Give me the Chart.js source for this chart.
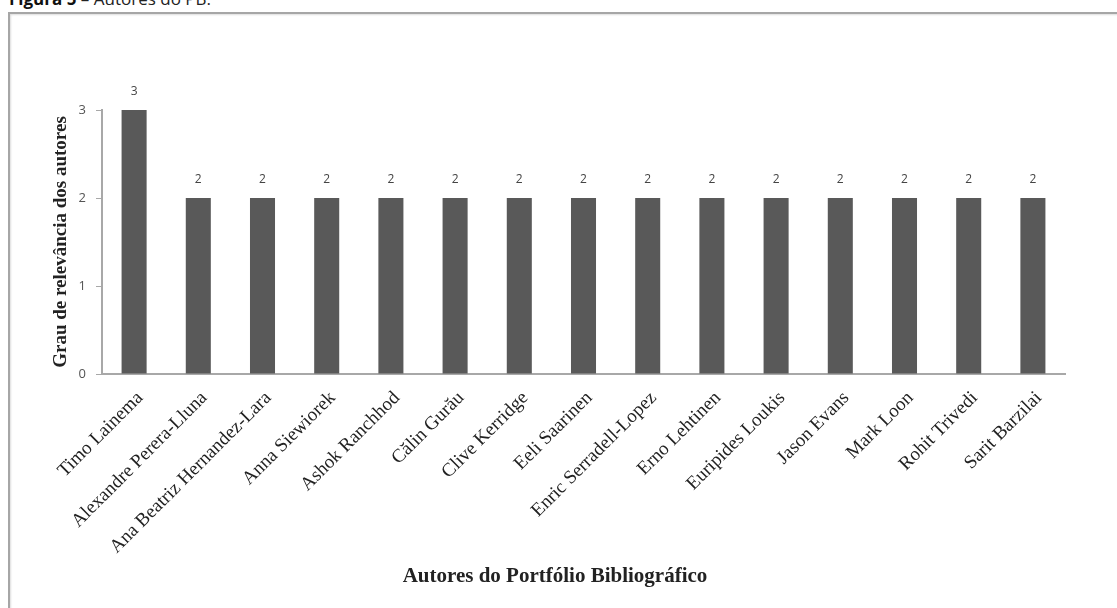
<!DOCTYPE html>
<html>
<head>
<meta charset="utf-8">
<script src="https://cdn.jsdelivr.net/npm/chart.js@4.4.1/dist/chart.umd.min.js"></script>
<style>
  html, body { margin: 0; padding: 0; background: #fff; overflow: hidden; }
  #wrap { position: relative; width: 1117px; height: 608px; }
  #caption {
    position: absolute; left: 9px; top: -13px;
    font-family: "Open Sans", sans-serif; font-size: 17px; color: #222; white-space: nowrap;
  }
  #caption b { color: #111; }
  #frame {
    position: absolute; left: 8px; top: 12px; right: -2px; bottom: -2px;
    border-top: 2px solid #a6a6a6; border-left: 2px solid #a6a6a6;
    box-shadow: inset 1px 1px 2px #ddd;
  }
  #chart { position: absolute; left: 0; top: 0; }
</style>
</head>
<body>
<div id="wrap">
  <div id="caption"><b>Figura 5</b> – Autores do PB.</div>
  <div id="frame"></div>
  <canvas id="chart" width="1117" height="608"></canvas>
</div>
<script>
const authors = [
  'Timo Lainema', 'Alexandre Perera-Lluna', 'Ana Beatriz Hernandez-Lara',
  'Anna Siewiorek', 'Ashok Ranchhod', 'Călin Gurău', 'Clive Kerridge',
  'Eeli Saarinen', 'Enric Serradell-Lopez', 'Erno Lehtinen', 'Euripides Loukis',
  'Jason Evans', 'Mark Loon', 'Rohit Trivedi', 'Sarit Barzilai'
];
const relevance = [3, 2, 2, 2, 2, 2, 2, 2, 2, 2, 2, 2, 2, 2, 2];
const yTicks = [0, 1, 2, 3];
const xTitle = 'Autores do Portfólio Bibliográfico';
const yTitle = 'Grau de relevância dos autores';

// value labels over each bar
const barValues = {
  id: 'barValues',
  afterDatasetsDraw(chart) {
    const ctx = chart.ctx;
    const meta = chart.getDatasetMeta(0);
    ctx.save();
    ctx.font = '12px "Open Sans", sans-serif';
    ctx.fillStyle = '#444';
    ctx.textAlign = 'center';
    ctx.textBaseline = 'middle';
    meta.data.forEach((bar, i) => {
      ctx.fillText(String(relevance[i]), bar.x, bar.y - 18);
    });
    ctx.restore();
  }
};

// x axis caption, sitting a little left of the plot centre
const xCaption = {
  id: 'xCaption',
  afterDraw(chart) {
    const ctx = chart.ctx;
    ctx.save();
    ctx.font = 'bold 21px "Liberation Serif", serif';
    ctx.fillStyle = '#222';
    ctx.textAlign = 'center';
    ctx.textBaseline = 'alphabetic';
    ctx.fillText(xTitle, 555, 582);
    ctx.restore();
  }
};

new Chart(document.getElementById('chart').getContext('2d'), {
  type: 'bar',
  data: {
    labels: authors,
    datasets: [{
      data: relevance,
      backgroundColor: '#595959',
      borderWidth: 0,
      categoryPercentage: 1,
      barPercentage: 0.39
    }]
  },
  options: {
    responsive: false,
    animation: false,
    layout: { padding: { left: 46, top: 110, right: 52, bottom: 0 } },
    plugins: { legend: { display: false }, tooltip: { enabled: false } },
    scales: {
      x: {
        afterFit(scale) { scale.height = 608 - 374; },
        grid: { display: true, drawOnChartArea: false, drawTicks: false },
        border: { color: '#a8a8a8', width: 2 },
        ticks: {
          color: '#222',
          font: { family: '"Liberation Serif", serif', size: 19 },
          maxRotation: 45, minRotation: 45, autoSkip: false,
          padding: 13, labelOffset: 6
        }
      },
      y: {
        min: 0, max: 3,
        afterFit(scale) { scale.width = 102 - 46; },
        afterBuildTicks(scale) { scale.ticks = yTicks.map(v => ({ value: v })); },
        grid: { drawOnChartArea: false, tickLength: 6, color: '#a8a8a8' },
        border: { color: '#a8a8a8', width: 2 },
        ticks: {
          color: '#555',
          font: { family: '"Open Sans", sans-serif', size: 13 },
          padding: 10
        },
        title: {
          display: true,
          text: yTitle,
          color: '#222',
          font: { family: '"Liberation Serif", serif', size: 19, weight: 'bold' }
        }
      }
    }
  },
  plugins: [barValues, xCaption]
});
</script>
</body>
</html>
